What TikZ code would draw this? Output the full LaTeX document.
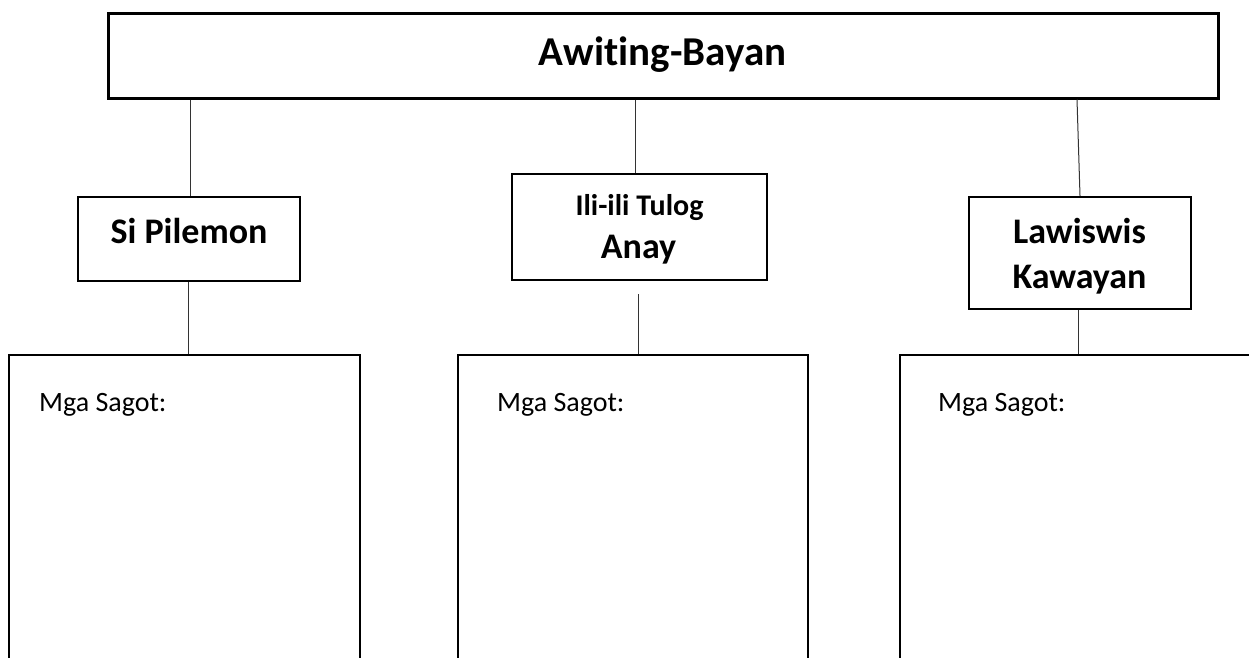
\documentclass[tikz,border=0pt]{standalone}
\usepackage{fontspec}
\setmainfont{Carlito}[Ligatures=NoCommon]
\begin{document}
\begin{tikzpicture}[x=1pt,y=-1pt,
  topbox/.style={draw, line width=3pt, inner sep=0pt, minimum width=1110pt, minimum height=85pt},
  midbox/.style={draw, line width=2.2pt, inner sep=0pt},
  ansbox/.style={draw, line width=2.5pt, inner sep=0pt, minimum height=330pt},
  conn/.style={draw, line width=1pt, black!80},
  bigtxt/.style={font=\fontsize{36}{44}\selectfont\bfseries, anchor=base, inner sep=0pt},
  smalltxt/.style={font=\fontsize{30}{36}\selectfont\bfseries, anchor=base, inner sep=0pt},
  anstxt/.style={font=\fontsize{28}{34}\selectfont, anchor=base west, inner sep=0pt}]
\useasboundingbox (0,0) rectangle (1249,657);
\clip (0,0) rectangle (1249,657);
\fill[white] (0,0) rectangle (1249,657);

% top box
\node[topbox] (top) at (663,55.5) {};
\node[font=\fontsize{41}{50}\selectfont\bfseries, anchor=base, inner sep=0pt] (toptxt) at (662.5,65) {Awiting-Bayan};

% middle boxes
\node[midbox, minimum width=222pt, minimum height=84pt] (sp) at (189,239) {};
\node[bigtxt] (sptxt) at (189,243) {Si Pilemon};

\node[midbox, minimum width=255pt, minimum height=106pt] (ili) at (639.5,227) {};
\node[smalltxt] (ilitxt1) at (639.5,215) {Ili-ili Tulog};
\node[bigtxt] (ilitxt2) at (638.5,258) {Anay};

\node[midbox, minimum width=222pt, minimum height=112pt] (law) at (1080,253) {};
\node[bigtxt] (lawtxt1) at (1079.5,243) {Lawiswis};
\node[bigtxt] (lawtxt2) at (1079.5,288) {Kawayan};

% answer boxes
\node[ansbox, minimum width=351pt] (b1) at (184.5,520) {};
\node[ansbox, minimum width=350pt] (b2) at (633,520) {};
\node[ansbox, minimum width=356pt] (b3) at (1078,520) {};
\node[anstxt] (t1) at (39,411) {Mga Sagot:};
\node[anstxt] (t2) at (497,411) {Mga Sagot:};
\node[anstxt] (t3) at (938,411) {Mga Sagot:};

% connectors
\draw[conn] ([xshift=1pt]top.south -| sp.north) -- ([xshift=1pt]sp.north);
\draw[conn] ([xshift=-4.5pt]top.south -| ili.north) -- ([xshift=-4.5pt]ili.north);
\draw[conn] ([xshift=-3pt]top.south -| law.north) -- (law.north);
\draw[conn] ([xshift=-1pt]sp.south) -- ([xshift=-1pt]sp.south |- b1.north);
\draw[conn] ([xshift=-1.5pt,yshift=-13pt]ili.south) -- ([xshift=-1.5pt]ili.south |- b2.north);
\draw[conn] ([xshift=-2pt]law.south) -- ([xshift=-2pt]law.south |- b3.north);
\end{tikzpicture}
\end{document}
